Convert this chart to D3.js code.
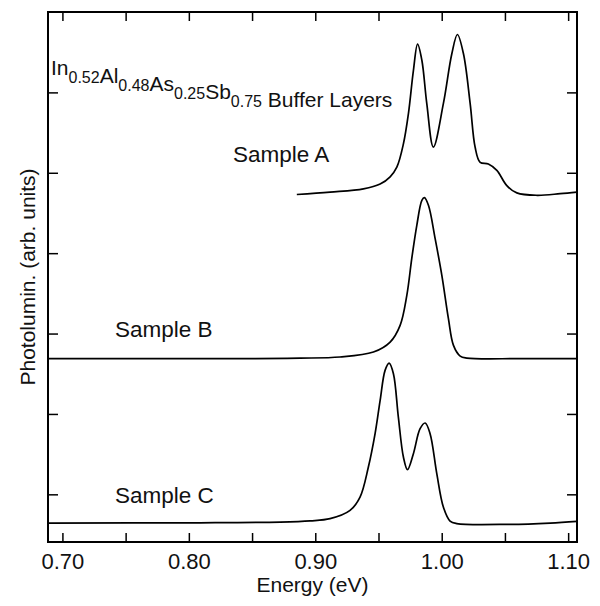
<!DOCTYPE html>
<html>
<head>
<meta charset="utf-8">
<script src="https://cdn.jsdelivr.net/npm/d3@7"></script>
<style>
  body { margin: 0; background: #fff; }
  svg text { font-family: "Liberation Sans", Arial, Helvetica, sans-serif; }
  .curve { fill: none; stroke: #000; stroke-width: 1.7; }
  .frame { fill: none; stroke: #000; stroke-width: 2; }
  .tick line { stroke: #000; stroke-width: 1.5; }
  .tick text { font-size: 22px; fill: #111; font-family: "Liberation Sans", Arial, sans-serif; }
  .label { font-size: 21px; fill: #111; }
  .sample { font-size: 22.5px; fill: #111; }
</style>
</head>
<body>
<svg width="600" height="606"></svg>
<script>
// photoluminescence spectra, offset vertically (arb. units)
const energyA = [0.8854, 0.9117, 0.9381, 0.9513, 0.9592, 0.9645, 0.9697, 0.9737, 0.9776, 0.9809,
  0.9843, 0.9882, 0.9934, 1.0013, 1.0080, 1.0124, 1.0172, 1.0225, 1.0264, 1.0304,
  1.0369, 1.0436, 1.0515, 1.0594, 1.0752, 1.0937, 1.1069];
const photoA = [3.73, 3.76, 3.80, 3.86, 3.95, 4.07, 4.36, 4.74, 5.27, 5.60,
  5.40, 4.86, 4.32, 4.86, 5.48, 5.72, 5.48, 4.86, 4.32, 4.13,
  4.11, 4.03, 3.84, 3.75, 3.72, 3.74, 3.76];

const energyB = [0.6886, 0.8484, 0.8880, 0.9196, 0.9460, 0.9592, 0.9671, 0.9724, 0.9763, 0.9803,
  0.9843, 0.9863, 0.9895, 0.9948, 1.0001, 1.0053, 1.0093, 1.0146, 1.0199, 1.0620, 1.1069];
const photoB = [1.689, 1.689, 1.694, 1.708, 1.770, 1.894, 2.102, 2.475, 2.932, 3.346,
  3.657, 3.690, 3.595, 3.180, 2.724, 2.185, 1.853, 1.720, 1.695, 1.688, 1.688];

const energyC = [0.6886, 0.8089, 0.8722, 0.8959, 0.9117, 0.9275, 0.9354, 0.9420, 0.9473, 0.9513,
  0.9552, 0.9584, 0.9618, 0.9657, 0.9697, 0.9729, 0.9776, 0.9829, 0.9869, 0.9908,
  0.9961, 1.0013, 1.0066, 1.0119, 1.0541, 1.0858, 1.1069];
const photoC = [-0.357, -0.354, -0.345, -0.330, -0.302, -0.199, -0.034, 0.340, 0.755, 1.169,
  1.542, 1.633, 1.501, 0.961, 0.464, 0.307, 0.506, 0.817, 0.887, 0.755,
  0.257, -0.158, -0.332, -0.364, -0.373, -0.357, -0.336];

const sampleNames = ["Sample A", "Sample B", "Sample C"];
const xTicks = [0.70, 0.75, 0.80, 0.85, 0.90, 0.95, 1.00, 1.05, 1.10];
const xTickLabels = [0.70, 0.80, 0.90, 1.00, 1.10];
const yTicks = [0, 1, 2, 3, 4, 5];

const svg = d3.select("svg");
const margin = { left: 48, top: 12, right: 23, bottom: 64 };
const width = 600 - margin.left - margin.right;
const height = 606 - margin.top - margin.bottom;

const x = d3.scaleLinear().domain([0.6886, 1.107]).range([margin.left, margin.left + width]);
const y = d3.scaleLinear().domain([-0.593, 6.0]).range([margin.top + height, margin.top]);

const fmt = (d) => (xTickLabels.some((t) => Math.abs(t - d) < 1e-6) ? d3.format(".2f")(d) : "");

svg.append("g")
  .attr("transform", `translate(0,${margin.top + height})`)
  .call(d3.axisBottom(x).tickValues(xTicks).tickSize(-9).tickSizeOuter(0).tickPadding(11.5).tickFormat(fmt))
  .call((g) => g.select(".domain").remove());

svg.append("g")
  .attr("transform", `translate(0,${margin.top})`)
  .call(d3.axisTop(x).tickValues(xTicks).tickSize(-9).tickSizeOuter(0).tickFormat(""))
  .call((g) => g.select(".domain").remove());

svg.append("g")
  .attr("transform", `translate(${margin.left},0)`)
  .call(d3.axisLeft(y).tickValues(yTicks).tickSize(-10).tickSizeOuter(0).tickFormat(""))
  .call((g) => g.select(".domain").remove());

svg.append("g")
  .attr("transform", `translate(${margin.left + width},0)`)
  .call(d3.axisRight(y).tickValues(yTicks).tickSize(-10).tickSizeOuter(0).tickFormat(""))
  .call((g) => g.select(".domain").remove());

svg.append("rect")
  .attr("class", "frame")
  .attr("x", margin.left)
  .attr("y", margin.top)
  .attr("width", width)
  .attr("height", height);

const line = d3.line()
  .x((d) => x(d[0]))
  .y((d) => y(d[1]))
  .curve(d3.curveCatmullRom.alpha(0.5));

const series = [
  d3.zip(energyA, photoA),
  d3.zip(energyB, photoB),
  d3.zip(energyC, photoC)
];

svg.selectAll("path.curve")
  .data(series)
  .enter()
  .append("path")
  .attr("class", "curve")
  .attr("d", line);

// sample labels
const labelPos = [[233, 161.7], [115, 336.7], [115, 503]];
svg.selectAll("text.sample")
  .data(sampleNames)
  .enter()
  .append("text")
  .attr("class", "sample")
  .attr("x", (d, i) => labelPos[i][0])
  .attr("y", (d, i) => labelPos[i][1])
  .text((d) => d);

// title with subscripts
const title = svg.append("text").attr("class", "label").attr("x", 51).attr("y", 75);
const parts = [["In", "0.52"], ["Al", "0.48"], ["As", "0.25"], ["Sb", "0.75"]];
parts.forEach((p) => {
  title.append("tspan").text(p[0]);
  title.append("tspan").attr("dy", 8).style("font-size", "16px").text(p[1]);
  title.append("tspan").attr("dy", -8).text("");
});
title.append("tspan").text(" Buffer Layers");

svg.append("text")
  .attr("class", "label")
  .attr("x", margin.left + width / 2)
  .attr("y", 592)
  .attr("text-anchor", "middle")
  .text("Energy (eV)");

svg.append("text")
  .attr("class", "label")
  .attr("transform", `translate(35,${margin.top + height / 2}) rotate(-90)`)
  .attr("text-anchor", "middle")
  .text("Photolumin. (arb. units)");
</script>
</body>
</html>
